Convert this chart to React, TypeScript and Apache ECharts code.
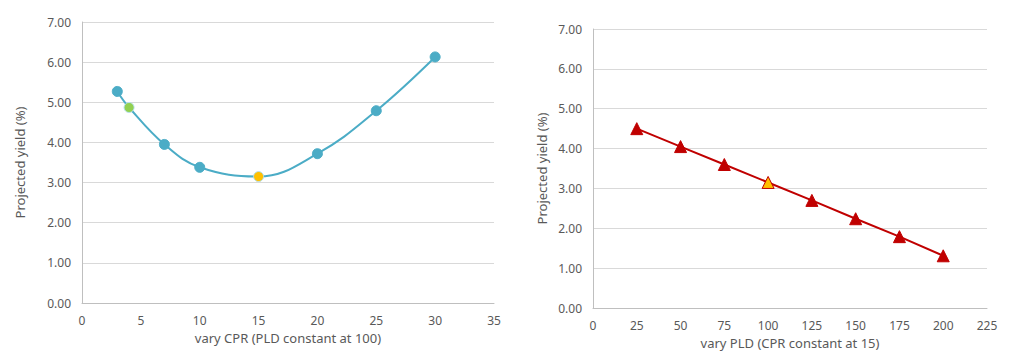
import React, { useEffect, useRef } from "react";
import * as echarts from "echarts";

const cprValues = [3, 4, 7, 10, 15, 20, 25, 30];
const cprYields = [5.27, 4.87, 3.95, 3.38, 3.15, 3.72, 4.79, 6.13];
const pldValues = [25, 50, 75, 100, 125, 150, 175, 200];
const pldYields = [4.5, 4.05, 3.6, 3.15, 2.7, 2.24, 1.79, 1.31];
const highlightCpr: Record<number, string> = { 4: "#92D050", 15: "#FFC000" };
const highlightPld: Record<number, string> = { 100: "#FFC000" };

const FONT = "Noto Sans";
const TXT = "#595959";

function makeYAxis(gridIndex: number, nameGap: number) {
  return {
    type: "value",
    gridIndex,
    min: 0,
    max: 7,
    interval: 1,
    name: "Projected yield (%)",
    nameLocation: "middle",
    nameGap,
    nameTextStyle: { color: TXT, fontFamily: FONT, fontSize: 13 },
    axisLine: { show: true, lineStyle: { color: "#BFBFBF" } },
    axisTick: { show: false },
    axisLabel: {
      color: TXT,
      fontFamily: FONT,
      fontSize: 12,
      margin: 11,
      formatter: (v: number) => v.toFixed(2),
    },
    splitLine: { show: true, lineStyle: { color: "#D9D9D9" } },
  };
}

function makeXAxis(gridIndex: number, max: number, interval: number, name: string) {
  return {
    type: "value",
    gridIndex,
    min: 0,
    max,
    interval,
    name,
    nameLocation: "middle",
    nameGap: 28,
    nameTextStyle: { color: TXT, fontFamily: FONT, fontSize: 13 },
    axisLine: { show: true, onZero: false, lineStyle: { color: "#BFBFBF" } },
    axisTick: { show: false },
    axisLabel: { color: TXT, fontFamily: FONT, fontSize: 12, margin: 11 },
    splitLine: { show: false },
  };
}

export default function App() {
  const ref = useRef<HTMLDivElement>(null);
  useEffect(() => {
    if (!ref.current) return;
    const chart = echarts.init(ref.current, null, { renderer: "svg" });
    chart.setOption({
      animation: false,
      backgroundColor: "#FFFFFF",
      grid: [
        { left: 82, right: 530, top: 22, bottom: 61 },
        { left: 593, right: 37, top: 29, bottom: 56 },
      ],
      xAxis: [
        makeXAxis(0, 35, 5, "vary CPR (PLD constant at 100)"),
        makeXAxis(1, 225, 25, "vary PLD (CPR constant at 15)"),
      ],
      yAxis: [makeYAxis(0, 56), makeYAxis(1, 45)],
      series: [
        {
          type: "line",
          xAxisIndex: 0,
          yAxisIndex: 0,
          smooth: 0.4,
          symbol: "circle",
          symbolSize: 10,
          lineStyle: { color: "#4BACC6", width: 2 },
          data: cprValues.map((x, i) => ({
            value: [x, cprYields[i]],
            itemStyle: highlightCpr[x]
              ? { color: highlightCpr[x], borderColor: "#B7E1EC", borderWidth: 1 }
              : { color: "#4BACC6", borderColor: "#4BACC6", borderWidth: 1 },
          })),
        },
        {
          type: "line",
          xAxisIndex: 1,
          yAxisIndex: 1,
          symbol: "triangle",
          symbolSize: 12,
          lineStyle: { color: "#C00000", width: 2 },
          data: pldValues.map((x, i) => ({
            value: [x, pldYields[i]],
            itemStyle: highlightPld[x]
              ? { color: highlightPld[x], borderColor: "#C00000", borderWidth: 1 }
              : { color: "#C00000", borderColor: "#C00000", borderWidth: 1 },
          })),
        },
      ],
    });
    return () => chart.dispose();
  }, []);
  return (
    <div
      ref={ref}
      style={{ position: "fixed", left: 0, top: 0, width: 1024, height: 364 }}
    />
  );
}
